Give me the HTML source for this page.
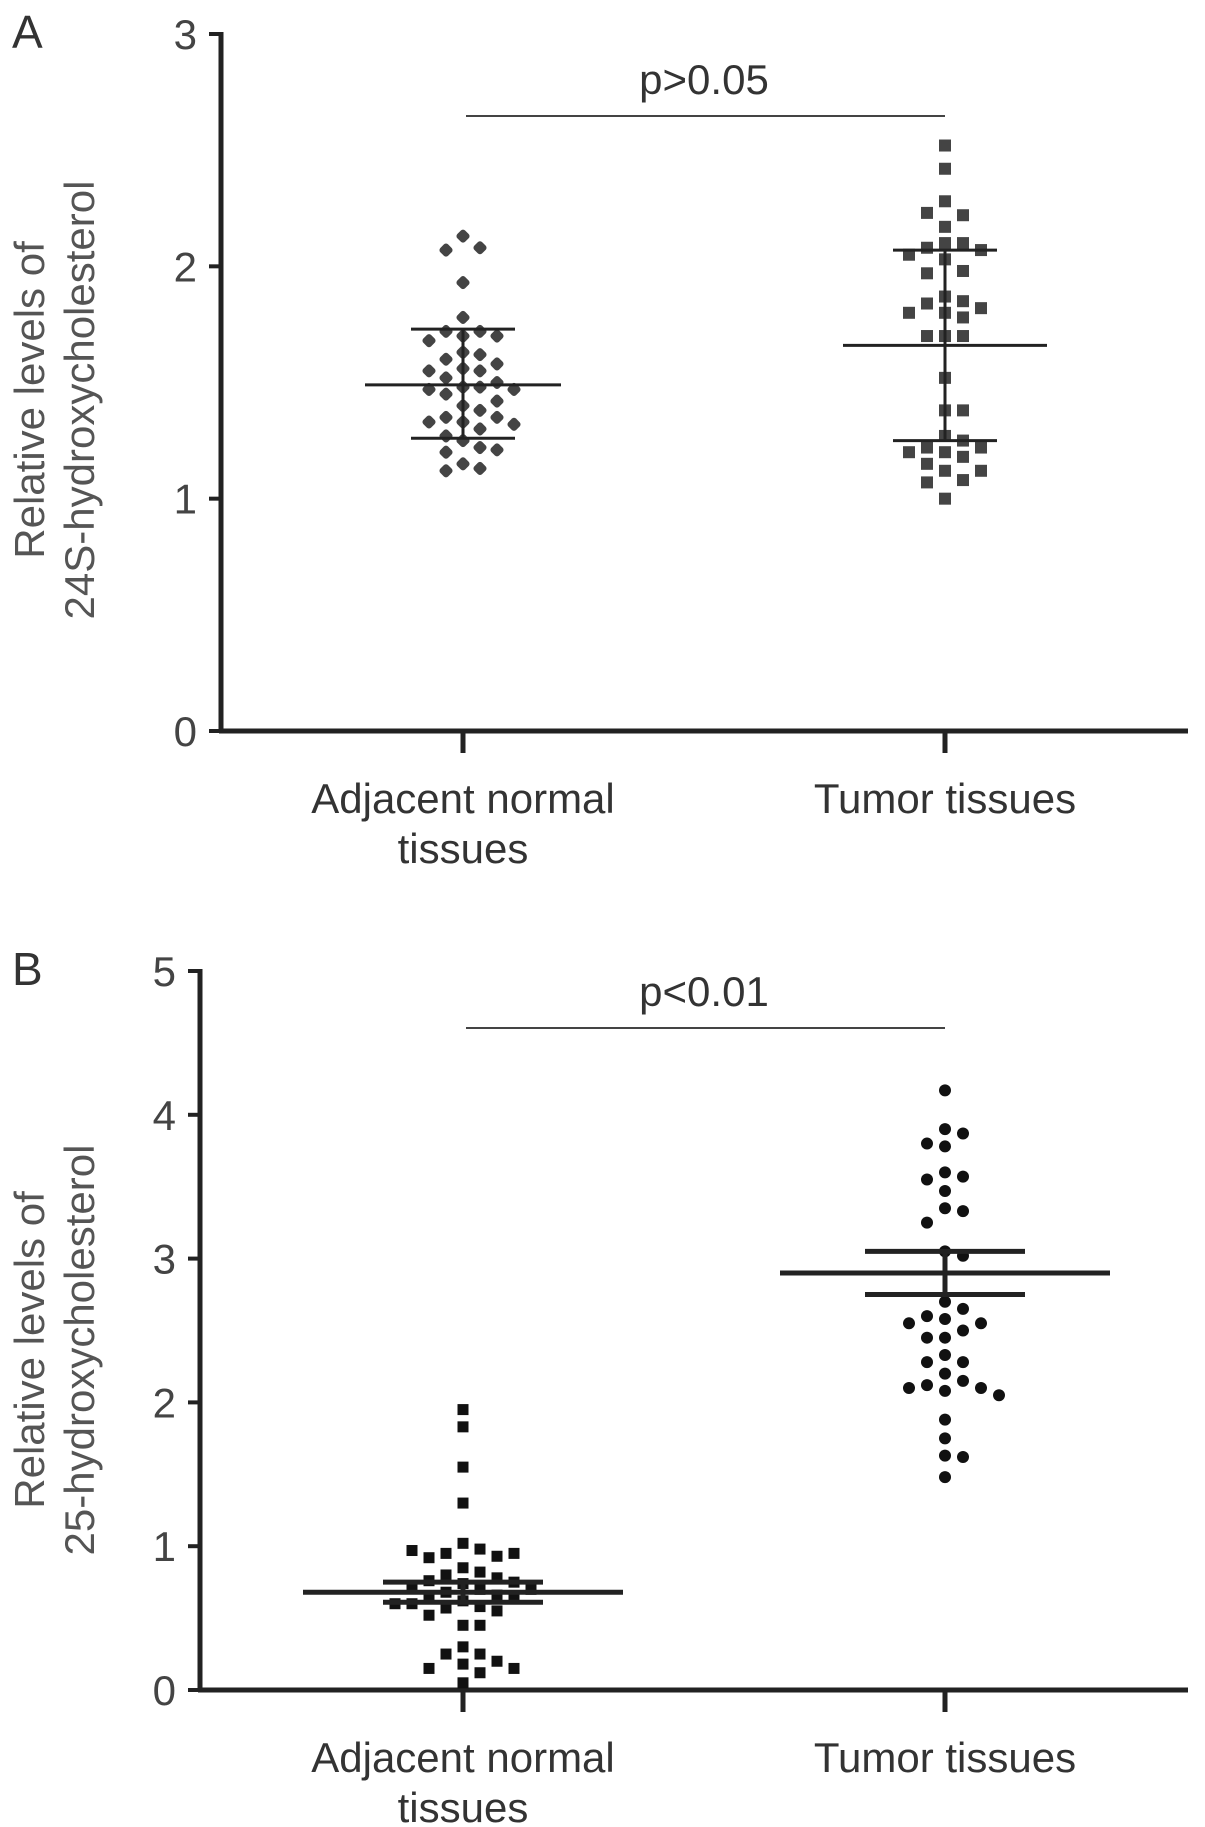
<!DOCTYPE html>
<html><head><meta charset="utf-8">
<style>
html,body{margin:0;padding:0;background:#fff;}
svg{display:block;font-family:"Liberation Sans",sans-serif;}
</style></head>
<body>
<svg id="fig" width="1205" height="1827" viewBox="0 0 1205 1827"></svg>
<script>
const categories = ["Adjacent normal tissues", "Tumor tissues"];
const aTicks = [0, 1, 2, 3];
const bTicks = [0, 1, 2, 3, 4, 5];
const aNormal = [2.13,2.08,2.07,1.93,1.78,1.72,1.72,1.70,1.70,1.68,1.63,1.62,1.60,1.58,1.56,1.55,1.55,1.52,1.50,1.48,1.48,1.47,1.47,1.45,1.42,1.40,1.38,1.35,1.35,1.33,1.33,1.32,1.30,1.27,1.25,1.22,1.21,1.20,1.15,1.13,1.12];
const aTumor = [2.52,2.42,2.28,2.22,2.23,2.17,2.10,2.10,2.08,2.07,2.05,2.03,1.98,1.97,1.87,1.85,1.84,1.82,1.80,1.80,1.78,1.70,1.70,1.70,1.52,1.38,1.38,1.27,1.25,1.22,1.22,1.20,1.20,1.18,1.15,1.12,1.12,1.08,1.07,1.00];
const aMean = [1.49, 1.66];
const aErrHi = [1.73, 2.07];
const aErrLo = [1.26, 1.25];
const bNormal = [1.95,1.83,1.55,1.30,1.02,0.98,0.95,0.93,0.92,0.95,0.97,0.85,0.82,0.80,0.78,0.76,0.75,0.74,0.72,0.70,0.70,0.68,0.66,0.65,0.64,0.62,0.60,0.60,0.58,0.57,0.55,0.52,0.45,0.45,0.30,0.25,0.25,0.20,0.18,0.15,0.15,0.12,0.05];
const bTumor = [4.17,3.90,3.87,3.80,3.78,3.60,3.57,3.55,3.47,3.35,3.33,3.25,3.05,3.02,2.70,2.65,2.60,2.58,2.55,2.55,2.50,2.45,2.45,2.33,2.28,2.28,2.20,2.15,2.12,2.10,2.10,2.08,2.05,1.88,1.75,1.63,1.62,1.48];
const bMean = [0.68, 2.90];
const bErrHi = [0.75, 3.05];
const bErrLo = [0.61, 2.75];

const NS = "http://www.w3.org/2000/svg";
const svg = document.getElementById("fig");
function el(tag, attrs, parent) {
  const e = document.createElementNS(NS, tag);
  for (const k in attrs) e.setAttribute(k, attrs[k]);
  (parent || svg).appendChild(e);
  return e;
}

function panel(cfg) {
  const g = el("g", {});
  
  
  const yMax = cfg.ticks[cfg.ticks.length - 1];
  const yS = v => cfg.y0 - (v / yMax) * (cfg.y0 - cfg.yTop);
  const xS = i => cfg.groupX[i];
  const L = el("text", {x: 12, y: cfg.yTop + 14, "font-size": 46, fill: "#333"}, g);
  L.textContent = cfg.letter;
  
  
  const ya = el("line", {x1: cfg.axisX, y1: cfg.yTop - 2, x2: cfg.axisX, y2: cfg.y0 + 2, stroke: "#222", "stroke-width": 5}, g);
  
  
  const xa = el("line", {x1: cfg.axisX - 2, y1: cfg.y0, x2: 1188, y2: cfg.y0, stroke: "#222", "stroke-width": 5}, g);
  
  
  cfg.ticks.forEach(t => {
    const y = yS(t);
    el("line", {x1: cfg.axisX - 12, y1: y, x2: cfg.axisX, y2: y, stroke: "#222", "stroke-width": 4}, g);
    const tl = el("text", {x: cfg.axisX - 24, y: y + 15, "font-size": 42, fill: "#444", "text-anchor": "end"}, g);
    tl.textContent = t;
    
    
  });
  const yt = el("text", {transform: `translate(44 ${cfg.yMid}) rotate(-90)`, "font-size": 42, fill: "#555", "text-anchor": "middle"}, g);
  
  
  const t1 = el("tspan", {x: 0, dy: 0}, yt); t1.textContent = "Relative levels of";
  const t2 = el("tspan", {x: 0, dy: 50}, yt); t2.textContent = cfg.ytitle;
  categories.forEach((c, i) => {
    el("line", {x1: xS(i), y1: cfg.y0, x2: xS(i), y2: cfg.y0 + 22, stroke: "#222", "stroke-width": 5}, g);
    const words = i === 0 ? ["Adjacent normal", "tissues"] : [c];
    words.forEach((w, j) => {
      const ct = el("text", {x: xS(i), y: cfg.y0 + 82 + j * 50, "font-size": 42, fill: "#333", "text-anchor": "middle"}, g);
      ct.textContent = w;
      
      
    });
  });
  const sl = el("line", {x1: xS(0) + 3, y1: cfg.sigY, x2: xS(1), y2: cfg.sigY, stroke: "#444", "stroke-width": 2}, g);
  
  
  const st = el("text", {x: (xS(0) + xS(1)) / 2, y: cfg.sigY - 22, "font-size": 42, fill: "#333", "text-anchor": "middle"}, g);
  st.textContent = cfg.pText;
  
  
  cfg.series.forEach((vals, i) => {
    const placed = [];
    const sz = cfg.size[i];
    vals.forEach(v => {
      const y = yS(v);
      let off = 0;
      for (let k = 0; k < 40; k++) {
        const cand = (k % 2 ? 1 : -1) * Math.ceil(k / 2) * (sz + 6);
        if (!placed.some(p => Math.abs(p[0] - cand) < sz + 4 && Math.abs(p[1] - y) < sz + 4)) { off = cand; break; }
      }
      placed.push([off, y]);
      const x = xS(i) + off;
      let m;
      if (cfg.shape[i] === "sq") m = el("rect", {x: x - sz / 2, y: y - sz / 2, width: sz, height: sz, fill: cfg.color}, g);
      else if (cfg.shape[i] === "dia") m = el("rect", {x: x - sz / 2, y: y - sz / 2, width: sz, height: sz, rx: 3, fill: cfg.color, transform: `rotate(45 ${x} ${y})`}, g);
      else m = el("circle", {cx: x, cy: y, r: sz / 2, fill: cfg.color}, g);
      
      
    });
    const mx = xS(i);
    const mw = cfg.meanW[i], cw = cfg.capW[i];
    const ml = el("line", {x1: mx - mw, y1: yS(cfg.mean[i]), x2: mx + mw, y2: yS(cfg.mean[i]), stroke: "#222", "stroke-width": cfg.lw}, g);
    
    
    const el1 = el("line", {x1: mx, y1: yS(cfg.hi[i]), x2: mx, y2: yS(cfg.lo[i]), stroke: "#222", "stroke-width": cfg.lw}, g);
    
    
    [cfg.hi[i], cfg.lo[i]].forEach(v => {
      const c = el("line", {x1: mx - cw, y1: yS(v), x2: mx + cw, y2: yS(v), stroke: "#222", "stroke-width": cfg.lw}, g);
      
      
    });
  });
}

panel({name: "panel-a", letter: "A", axisX: 221, y0: 731, yTop: 34, yMid: 400, ticks: aTicks,
  groupX: [463, 945], sigY: 116, pText: "p>0.05", ytitle: "24S-hydroxycholesterol",
  series: [aNormal, aTumor], shape: ["dia", "sq"], size: [11, 12], color: "#444",
  mean: aMean, hi: aErrHi, lo: aErrLo, meanW: [98, 102], capW: [52, 52], lw: 3});
panel({name: "panel-b", letter: "B", axisX: 200, y0: 1690, yTop: 971, yMid: 1350, ticks: bTicks,
  groupX: [463, 945], sigY: 1028, pText: "p<0.01", ytitle: "25-hydroxycholesterol",
  series: [bNormal, bTumor], shape: ["sq", "ci"], size: [11, 12], color: "#111",
  mean: bMean, hi: bErrHi, lo: bErrLo, meanW: [160, 165], capW: [80, 80], lw: 5});
</script>
</body></html>
